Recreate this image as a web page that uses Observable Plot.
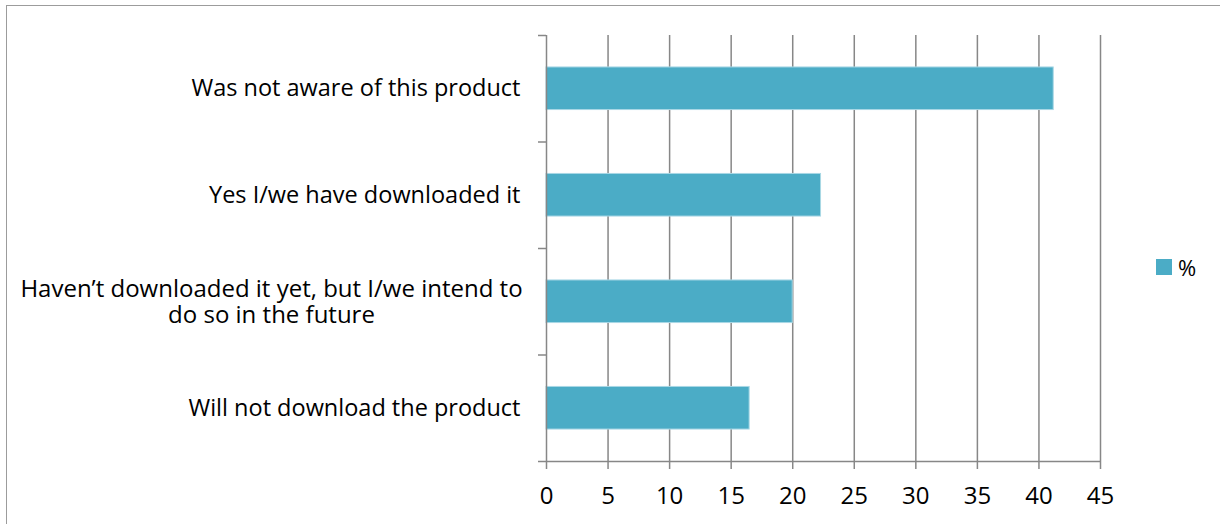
<!DOCTYPE html>
<html>
<head>
<meta charset="utf-8">
<script src="https://cdn.jsdelivr.net/npm/d3@7"></script>
<script src="https://cdn.jsdelivr.net/npm/@observablehq/plot@0.6"></script>
<style>
  html, body { margin: 0; padding: 0; background: #fff; }
  #wrap { position: relative; width: 1220px; height: 524px; overflow: hidden; font-family: "Open Sans", sans-serif; }
  #frame { position: absolute; left: 6px; top: 5px; width: 1230px; height: 540px; border: 1.5px solid #9c9c9c; box-sizing: border-box; }
  #chart { position: absolute; left: 0; top: 0; }
  #legend { position: absolute; left: 1156px; top: 252px; display: flex; align-items: center; font-size: 22px; color: #000; }
  #legend .sw { width: 16px; height: 16px; background: #4bacc6; margin-right: 6px; }
</style>
</head>
<body>
<div id="wrap">
  <div id="frame"></div>
  <div id="chart"></div>
  <div id="legend"><div class="sw"></div><span id="legend-label"></span></div>
</div>
<script>
const categories = [
  "Was not aware of this product",
  "Yes I/we have downloaded it",
  "Haven\u2019t downloaded it yet, but I/we intend to\ndo so in the future",
  "Will not download the product"
];
const values = [41.2, 22.3, 20.0, 16.5];
const xTicks = [0, 5, 10, 15, 20, 25, 30, 35, 40, 45];
const seriesName = "%";

const rows = categories.map((c, i) => ({category: c, value: values[i], index: i}));
const single = rows.filter(d => !d.category.includes("\n"));
const multi = rows.filter(d => d.category.includes("\n"));
const boundaries = d3.range(categories.length + 1);

const grey = "#878787";
const font = "Open Sans, sans-serif";

const chart = Plot.plot({
  width: 1220,
  height: 524,
  marginLeft: 546,
  marginRight: 120,
  marginTop: 35,
  marginBottom: 63,
  style: {fontFamily: font, fontSize: "23px", color: "#000", background: "transparent"},
  x: {domain: [0, 45], ticks: xTicks},
  y: {domain: [0, categories.length], reverse: true},
  marks: [
    Plot.gridX(xTicks.filter(t => t > 0), {stroke: grey, strokeOpacity: 1, strokeWidth: 1.5}),
    Plot.rectX(rows, {
      x1: 0, x2: "value",
      y1: d => d.index + 0.3, y2: d => d.index + 0.7,
      fill: "#4bacc6", stroke: "#a9d8e5", strokeWidth: 1
    }),
    Plot.ruleX([0], {stroke: grey, strokeWidth: 1.5}),
    Plot.ruleY([categories.length], {stroke: grey, strokeWidth: 1.5}),
    Plot.axisX({ticks: xTicks, tickSize: 8, tickPadding: 17, stroke: grey, strokeWidth: 1.5, strokeOpacity: 1, label: null, fontSize: 24, fill: "#000", tickFormat: d => String(d)}),
    Plot.axisY({ticks: boundaries, tickSize: 8, tickFormat: () => "", stroke: grey, strokeWidth: 1.5, strokeOpacity: 1, label: null}),
    Plot.text(single, {x: 0, y: d => d.index + 0.5, text: "category", textAnchor: "end", dx: -26, fontSize: 23.5, fill: "#000"}),
    Plot.text(multi, {x: 0, y: d => d.index + 0.5, text: "category", textAnchor: "middle", dx: -275, fontSize: 24, lineHeight: 1.1, fill: "#000"})
  ]
});
document.getElementById("chart").appendChild(chart);
document.getElementById("legend-label").textContent = seriesName;
</script>
</body>
</html>
